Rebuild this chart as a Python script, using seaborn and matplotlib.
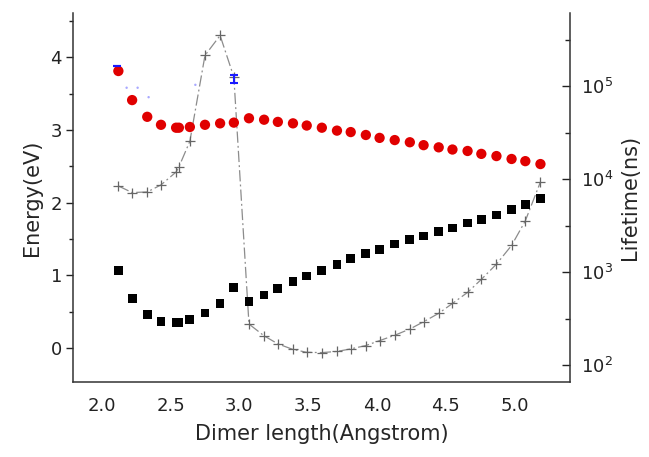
import numpy as np
import pandas as pd
import matplotlib
matplotlib.use("Agg")
import matplotlib.pyplot as plt
import matplotlib.ticker as mticker
import seaborn as sns

# ---- data ----
dimer_length = [2.12, 2.22, 2.33, 2.43, 2.54, 2.56, 2.64, 2.75, 2.86, 2.96,
                3.07, 3.18, 3.28, 3.39, 3.49, 3.60, 3.71, 3.81, 3.92, 4.02,
                4.13, 4.24, 4.34, 4.45, 4.55, 4.66, 4.76, 4.87, 4.98, 5.08, 5.19]
energy_upper = [3.81, 3.41, 3.18, 3.07, 3.03, 3.03, 3.04, 3.07, 3.09, 3.10,
                3.16, 3.14, 3.11, 3.09, 3.06, 3.03, 2.99, 2.97, 2.93, 2.89,
                2.86, 2.83, 2.79, 2.76, 2.73, 2.71, 2.67, 2.64, 2.60, 2.57, 2.53]
energy_lower = [1.07, 0.68, 0.46, 0.36, 0.35, 0.35, 0.39, 0.48, 0.61, 0.83,
                0.64, 0.73, 0.82, 0.91, 0.99, 1.07, 1.15, 1.23, 1.30, 1.36,
                1.43, 1.49, 1.54, 1.60, 1.65, 1.72, 1.77, 1.83, 1.90, 1.97, 2.06]
lifetime = [8470, 7190, 7300, 8690, 11970, 13550, 25640, 215400, 353400, 125900,
            276, 206, 169, 147, 137, 136, 140, 149, 162, 183,
            209, 244, 292, 360, 460, 605, 835, 1219, 1937, 3564, 9354]
blue_x = [2.11, 2.96]
blue_y = [3.88, 3.70]
blue_err = [0.0, 0.06]
faint_x = [2.18, 2.26, 2.34, 2.68]
faint_y = [3.58, 3.58, 3.45, 3.62]

x_ticks = [2.0, 2.5, 3.0, 3.5, 4.0, 4.5, 5.0]
y_ticks = [0, 1, 2, 3, 4]
life_ticks = [1e2, 1e3, 1e4, 1e5]

df = pd.DataFrame({"x": dimer_length, "up": energy_upper,
                   "low": energy_lower, "life": lifetime})

sns.set_style("white")
plt.rcParams["font.family"] = ["DejaVu Sans"]

fig = plt.figure(figsize=(6.49, 4.57), dpi=100)
ax = fig.add_axes([73 / 649, 1 - 382 / 457, (570 - 73) / 649, (382 - 13) / 457])
ax2 = ax.twinx()

# lifetime on right axis (drawn behind)
sns.lineplot(data=df, x="x", y="life", ax=ax2, color="#8c8c8c", linewidth=0.9,
             linestyle=(0, (9, 2.5, 1.5, 2.5)), marker="+", markersize=7,
             markeredgewidth=0.9, markeredgecolor="#666666", estimator=None,
             sort=False)
ax2.set_yscale("log")
ax2.set_ylim(10 ** 1.817, 10 ** 5.79)
ax2.yaxis.set_major_locator(mticker.FixedLocator(life_ticks))
ax2.yaxis.set_major_formatter(mticker.LogFormatterMathtext())
ax2.yaxis.set_minor_locator(mticker.FixedLocator([10 ** (k + 0.5) for k in range(1, 6)]))
ax2.yaxis.set_minor_formatter(mticker.NullFormatter())
ax2.set_ylabel("Lifetime(ns)", fontsize=15, labelpad=5)
ax2.tick_params(axis="y", which="major", direction="in", length=6, width=1,
                labelsize=13, pad=8, colors="#222222")
ax2.tick_params(axis="y", which="minor", direction="in", length=3.5, width=1,
                colors="#222222")

# energies on left axis
ax.set_zorder(ax2.get_zorder() + 1)
ax.patch.set_visible(False)
sns.scatterplot(data=df, x="x", y="up", ax=ax, color="#e00000", marker="o",
                s=55, edgecolor="none")
sns.scatterplot(data=df, x="x", y="low", ax=ax, color="black", marker="s",
                s=40, edgecolor="none")
ax.errorbar(blue_x, blue_y, yerr=blue_err, fmt="none", ecolor="#1a1aff",
            elinewidth=1.5, capsize=3, capthick=1.5)
ax.scatter(faint_x, faint_y, s=3, color="#6f6fff", alpha=0.6, edgecolor="none")

ax.set_xlim(1.79, 5.405)
ax.set_ylim(-0.468, 4.608)
ax.xaxis.set_major_locator(mticker.FixedLocator(x_ticks))
ax.xaxis.set_major_formatter(mticker.FormatStrFormatter("%.1f"))
ax.xaxis.set_minor_locator(mticker.MultipleLocator(0.25))
ax.yaxis.set_major_locator(mticker.FixedLocator(y_ticks))
ax.yaxis.set_minor_locator(mticker.MultipleLocator(0.5))
ax.set_xlabel("Dimer length(Angstrom)", fontsize=15, labelpad=6)
ax.set_ylabel("Energy(eV)", fontsize=15, labelpad=6)
ax.tick_params(axis="both", which="major", direction="out", length=5, width=1,
               labelsize=13, colors="#222222")
ax.tick_params(axis="x", which="major", pad=6)
ax.tick_params(axis="both", which="minor", direction="out", length=3, width=1,
               colors="#222222")
ax.tick_params(axis="y", which="major", pad=3)

for a in (ax, ax2):
    a.spines["top"].set_visible(False)
    for s in ("left", "bottom", "right"):
        a.spines[s].set_linewidth(1.1)
        a.spines[s].set_color("#333333")
ax.spines["right"].set_visible(False)
ax2.spines["left"].set_visible(False)
ax2.spines["bottom"].set_visible(False)

fig.savefig("out.png", dpi=100)
